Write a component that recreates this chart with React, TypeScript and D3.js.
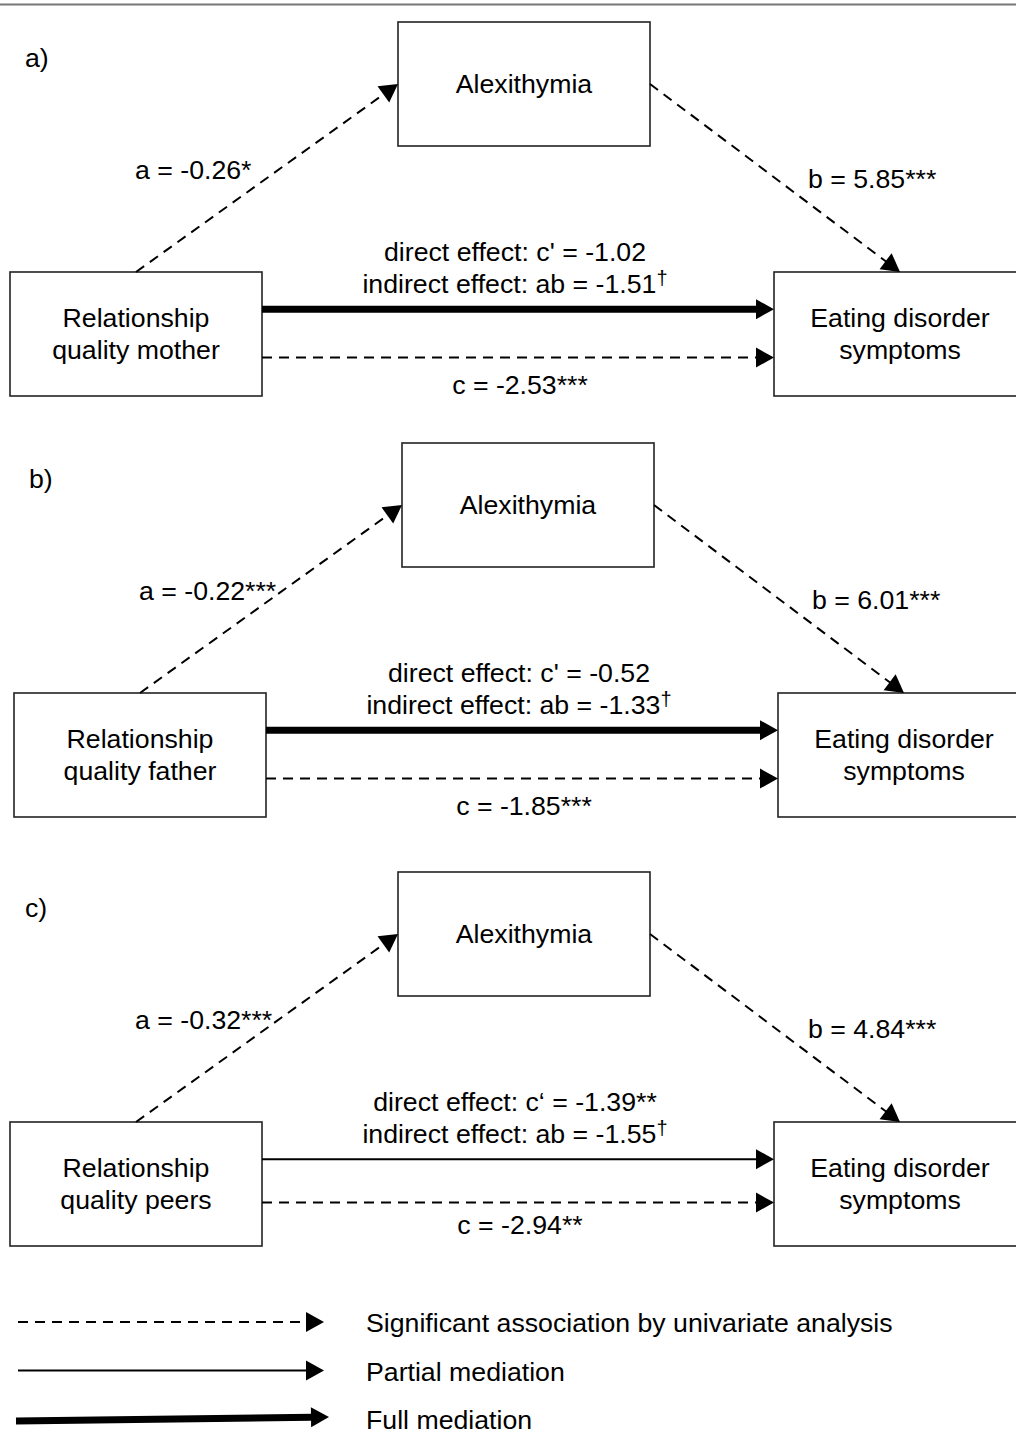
import React, { useEffect, useRef } from "react";
import * as d3 from "d3";

// three mediation models, one per panel
const panelTags = ["a)", "b)", "c)"];
const predictors = [
  ["Relationship", "quality mother"],
  ["Relationship", "quality father"],
  ["Relationship", "quality peers"],
];
const mediator = "Alexithymia";
const outcome = ["Eating disorder", "symptoms"];
const aPaths = ["a = -0.26*", "a = -0.22***", "a = -0.32***"];
const bPaths = ["b = 5.85***", "b = 6.01***", "b = 4.84***"];
const directEffects = [
  "direct effect: c' = -1.02",
  "direct effect: c' = -0.52",
  "direct effect: c\u2018 = -1.39**",
];
const indirectEffects = [
  "indirect effect: ab = -1.51",
  "indirect effect: ab = -1.33",
  "indirect effect: ab = -1.55",
];
const indirectMarks = ["\u2020", "\u2020", "\u2020"];
const totalEffects = ["c = -2.53***", "c = -1.85***", "c = -2.94**"];
const mediationTypes = ["full", "full", "partial"];

const legendKeys = ["significant", "partial", "full"];
const legendLabels = [
  "Significant association by univariate analysis",
  "Partial mediation",
  "Full mediation",
];

const W = 1016;
const H = 1436;
const FONT = "'Liberation Sans', Arial, sans-serif";
const FS = 26.7;

// layout of one panel (panel a coordinates)
const box = { w: 252, h: 124 };
const panelShift = [
  { dx: 0, dy: 0, totalNudge: 0 },
  { dx: 4, dy: 421, totalNudge: 0 },
  { dx: 0, dy: 850, totalNudge: -5 },
];

const lineStyle: Record<string, { width: number; dash: string | null }> = {
  significant: { width: 2, dash: "10,7" },
  partial: { width: 2, dash: null },
  full: { width: 7, dash: null },
};

type G = d3.Selection<SVGGElement, unknown, null, undefined>;

function arrow(g: G, x1: number, y1: number, x2: number, y2: number, kind: string) {
  const len = Math.hypot(x2 - x1, y2 - y1);
  const ux = (x2 - x1) / len;
  const uy = (y2 - y1) / len;
  const head = 18,
    half = 10;
  const bx = x2 - ux * head,
    by = y2 - uy * head;
  const st = lineStyle[kind];
  g.append("line")
    .attr("x1", x1)
    .attr("y1", y1)
    .attr("x2", bx + ux)
    .attr("y2", by + uy)
    .attr("stroke", "#000")
    .attr("stroke-width", st.width)
    .attr("stroke-dasharray", st.dash);
  g.append("path")
    .attr(
      "d",
      d3.line()([
        [x2, y2],
        [bx - uy * half, by + ux * half],
        [bx + uy * half, by - ux * half],
      ]) + "Z"
    )
    .attr("fill", "#000");
}

function label(g: G, x: number, y: number, txt: string, anchor = "middle") {
  return g
    .append("text")
    .attr("x", x)
    .attr("y", y)
    .attr("text-anchor", anchor)
    .attr("font-family", FONT)
    .attr("font-size", FS)
    .attr("fill", "#000")
    .text(txt);
}

export default function App() {
  const ref = useRef<SVGSVGElement | null>(null);

  useEffect(() => {
    const svg = d3.select(ref.current);
    svg.selectAll("*").remove();

    svg.append("rect").attr("width", W).attr("height", H).attr("fill", "#fff");
    svg.append("line")
      .attr("x1", 0)
      .attr("x2", W)
      .attr("y1", 4.5)
      .attr("y2", 4.5)
      .attr("stroke", "#777")
      .attr("stroke-width", 2);

    const leftX = d3.scaleLinear().domain([0, 1]).range([10, 10 + box.w]);
    const midX = d3.scaleLinear().domain([0, 1]).range([398, 398 + box.w]);
    const rightX = d3.scaleLinear().domain([0, 1]).range([774, 774 + box.w]);
    const topY = d3.scaleLinear().domain([0, 1]).range([22, 22 + box.h]);
    const lowY = d3.scaleLinear().domain([0, 1]).range([272, 272 + box.h]);

    panelTags.forEach((tag, i) => {
      const { dx, dy, totalNudge } = panelShift[i];
      const g = svg.append("g").attr("transform", `translate(${dx},${dy})`) as unknown as G;

      label(g, 25, 67, tag, "start");

      const boxes = [
        { x: leftX, y: lowY, lines: predictors[i] },
        { x: midX, y: topY, lines: [mediator] },
        { x: rightX, y: lowY, lines: outcome },
      ];
      boxes.forEach((b) => {
        g.append("rect")
          .attr("x", b.x(0))
          .attr("y", b.y(0))
          .attr("width", b.x(1) - b.x(0))
          .attr("height", b.y(1) - b.y(0))
          .attr("fill", "#fff")
          .attr("stroke", "#222")
          .attr("stroke-width", 1.6);
        const n = b.lines.length;
        b.lines.forEach((t, k) => {
          label(g, b.x(0.5), b.y(0.5) + 9 + (k - (n - 1) / 2) * 32, t);
        });
      });

      // a path and b path
      arrow(g, leftX(0.5), lowY(0), midX(0), topY(0.5), "significant");
      arrow(g, midX(1), topY(0.5), rightX(0.5), lowY(0), "significant");
      // direct path and total effect
      arrow(g, leftX(1), lowY(0.3), rightX(0), lowY(0.3), mediationTypes[i]);
      const totY = lowY(0.69) + totalNudge;
      arrow(g, leftX(1), totY, rightX(0), totY, "significant");

      label(g, 135, 179, aPaths[i], "start");
      label(g, 808, 188, bPaths[i], "start");
      label(g, 515, 261, directEffects[i]);
      const ind = label(g, 515, 293, indirectEffects[i]);
      ind.append("tspan").attr("font-size", 20).attr("dy", -8).text(indirectMarks[i]);
      label(g, 520, totY + 36 + totalNudge, totalEffects[i]);
    });

    // legend
    const legY = d3.scalePoint<string>().domain(legendKeys).range([1322, 1419]);
    legendKeys.forEach((k, i) => {
      const y = legY(k) as number;
      if (k === "full") arrow(svg as unknown as G, 16, y + 2, 329, y - 2, k);
      else arrow(svg as unknown as G, 18, y, 324, y, k);
      label(svg as unknown as G, 366, y + 10, legendLabels[i], "start");
    });
  }, []);

  return (
    <svg
      ref={ref}
      width={W}
      height={H}
      style={{ position: "absolute", left: 0, top: 0, display: "block" }}
    />
  );
}
